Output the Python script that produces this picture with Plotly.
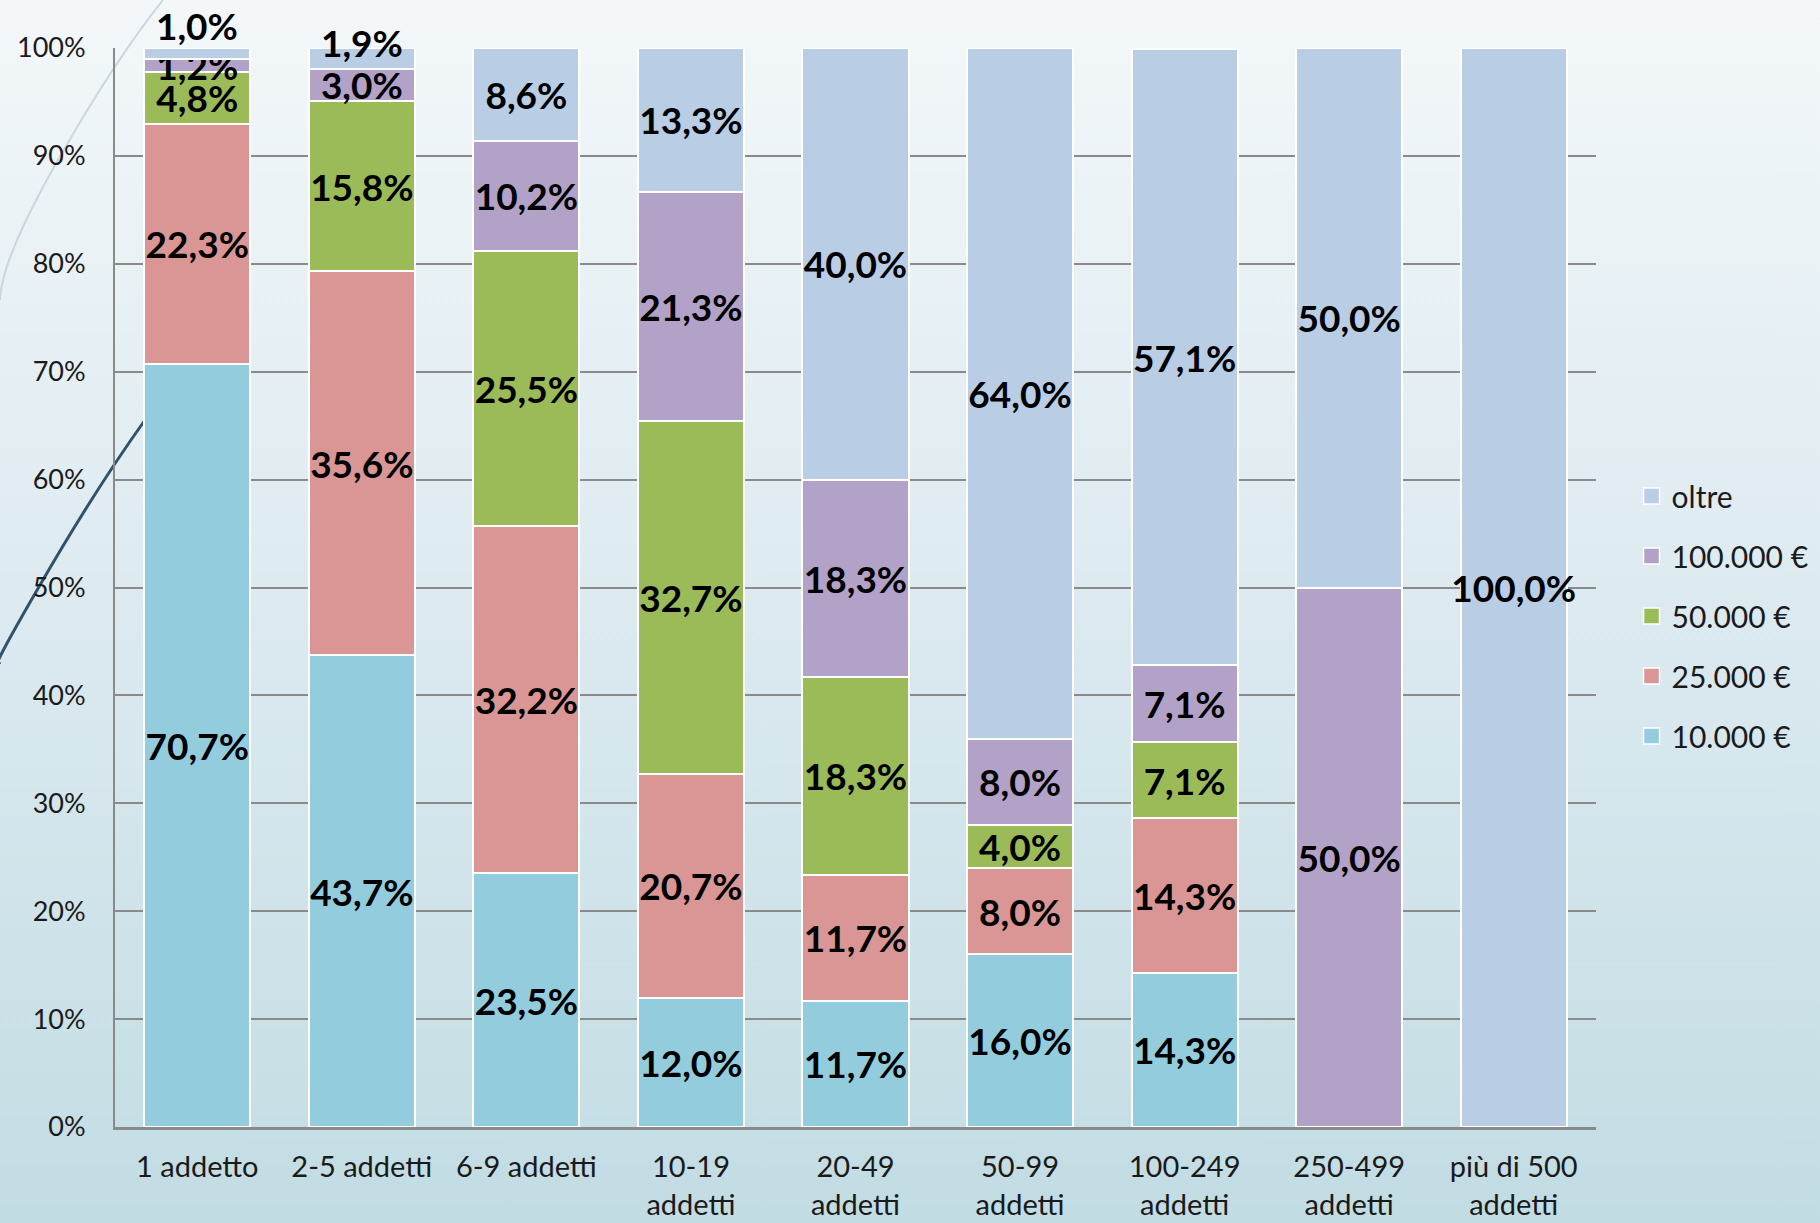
import base64

import plotly.graph_objects as go


# =========================================================
# dati
# =========================================================

categories = [
    "1 addetto",
    "2-5 addetti",
    "6-9 addetti",
    "10-19<br>addetti",
    "20-49<br>addetti",
    "50-99<br>addetti",
    "100-249<br>addetti",
    "250-499<br>addetti",
    "più di 500<br>addetti",
]

series_names = ["10.000 €", "25.000 €", "50.000 €", "100.000 €", "oltre"]

v_10000 = [70.7, 43.7, 23.5, 12.0, 11.7, 16.0, 14.3, 0.0, 0.0]
v_25000 = [22.3, 35.6, 32.2, 20.7, 11.7, 8.0, 14.3, 0.0, 0.0]
v_50000 = [4.8, 15.8, 25.5, 32.7, 18.3, 4.0, 7.1, 0.0, 0.0]
v_100000 = [1.2, 3.0, 10.2, 21.3, 18.3, 8.0, 7.1, 50.0, 0.0]
v_oltre = [1.0, 1.9, 8.6, 13.3, 40.0, 64.0, 57.1, 50.0, 100.0]

y_ticks = [0, 10, 20, 30, 40, 50, 60, 70, 80, 90, 100]

colors = ["#93cddd", "#d99694", "#9bbb59", "#b3a2c7", "#b9cde5"]


def fmt(v):
    if v == 0:
        return ""
    return f"{v:.1f}".replace(".", ",") + "%"


# =========================================================
# figura
# =========================================================

W, H = 1820, 1223
ML, MR, MT, MB = 115, 224, 48, 96
PW = W - ML - MR
PH = H - MT - MB

FONT = "Lato, 'Open Sans', sans-serif"
LABEL_FONT = dict(family=FONT, size=37, color="black", weight="bold")

all_values = [v_10000, v_25000, v_50000, v_100000, v_oltre]

fig = go.Figure()

for i, (name, vals, col) in enumerate(zip(series_names, all_values, colors)):

    texts = [fmt(v) for v in vals]

    # etichette piccole in cima alle prime due barre: annotazioni a parte
    if name == "oltre":
        texts[0] = ""
        texts[1] = ""

    fig.add_trace(
        go.Bar(
            x=categories,
            y=vals,
            name=name,
            legendgroup=name,
            showlegend=False,
            marker=dict(color=col, line=dict(color="white", width=2)),
            text=texts,
            textposition="inside",
            insidetextanchor="middle",
            constraintext="none",
            textangle=0,
            textfont=LABEL_FONT,
        )
    )

    # voce di legenda con quadratino più grande
    fig.add_trace(
        go.Scatter(
            x=[None],
            y=[None],
            mode="markers",
            name=name,
            legendgroup=name,
            legendrank=len(series_names) - i,
            marker=dict(
                symbol="square",
                size=17,
                color=col,
                line=dict(color="white", width=1.5),
            ),
        )
    )

# etichette "oltre" delle prime due barre, sopra il 100%
fig.add_annotation(
    x=categories[0], y=100, text=fmt(v_oltre[0]),
    showarrow=False, yanchor="bottom", yshift=-2,
    font=LABEL_FONT,
)
fig.add_annotation(
    x=categories[1], y=100, text=fmt(v_oltre[1]),
    showarrow=False, yanchor="middle", yshift=6,
    font=LABEL_FONT,
)

# sfondo sfumato
svg = (
    '<svg xmlns="http://www.w3.org/2000/svg" width="100" height="100" '
    'preserveAspectRatio="none">'
    '<defs><linearGradient id="g" x1="0" y1="0" x2="0" y2="1">'
    '<stop offset="0" stop-color="#f3f7f9"/>'
    '<stop offset="0.5" stop-color="#dceaf0"/>'
    '<stop offset="1" stop-color="#c2dce3"/>'
    '</linearGradient></defs>'
    '<rect width="100" height="100" fill="url(#g)"/></svg>'
)
svg_uri = "data:image/svg+xml;base64," + base64.b64encode(svg.encode()).decode()

fig.add_layout_image(
    source=svg_uri,
    xref="paper", yref="paper",
    x=-ML / PW, y=1 + MT / PH,
    sizex=W / PW, sizey=H / PH,
    sizing="stretch",
    xanchor="left", yanchor="top",
    layer="below",
)


def px(x, y):
    return (x - ML) / PW, (H - MB - y) / PH


# curve decorative della slide
p = [px(163, 0), px(115, 60), px(58, 160), px(0, 300)]
fig.add_shape(
    type="path", xref="paper", yref="paper", layer="below",
    path=f"M {p[0][0]},{p[0][1]} Q {p[1][0]},{p[1][1]} {p[2][0]},{p[2][1]} T {p[3][0]},{p[3][1]}",
    line=dict(color="#c9d6de", width=2),
)
q = [px(145, 420), px(95, 490), px(40, 585), px(0, 662)]
fig.add_shape(
    type="path", xref="paper", yref="paper", layer="below",
    path=f"M {q[0][0]},{q[0][1]} Q {q[1][0]},{q[1][1]} {q[2][0]},{q[2][1]} T {q[3][0]},{q[3][1]}",
    line=dict(color="#2f536d", width=3),
)

fig.update_layout(
    width=W,
    height=H,
    margin=dict(l=ML, r=MR, t=MT, b=MB, autoexpand=False),
    barmode="stack",
    bargap=0.355,
    paper_bgcolor="#d6e7ec",
    plot_bgcolor="rgba(0,0,0,0)",
    font=dict(family=FONT, color="#1a1a1a"),
    showlegend=True,
    legend=dict(
        x=1.024,
        y=0.4736,
        xanchor="left",
        yanchor="middle",
        traceorder="grouped",
        tracegroupgap=18,
        itemwidth=30,
        bgcolor="rgba(0,0,0,0)",
        font=dict(family=FONT, size=30, color="#1a1a1a"),
    ),
    xaxis=dict(
        automargin=False,
        showline=True,
        linecolor="#8a8a8a",
        linewidth=3,
        showgrid=False,
        ticks="",
        ticklabelstandoff=12,
        tickfont=dict(family=FONT, size=29, color="#1a1a1a"),
    ),
    yaxis=dict(
        automargin=False,
        range=[0, 100],
        tickvals=y_ticks,
        ticktext=[f"{t}%" for t in y_ticks],
        showline=True,
        linecolor="#8a8a8a",
        linewidth=2,
        showgrid=True,
        gridcolor="#8a8a8a",
        gridwidth=2,
        zeroline=False,
        ticks="",
        ticklabelstandoff=22,
        tickfont=dict(family=FONT, size=27, color="#1a1a1a"),
    ),
)

# niente margine bianco della pagina attorno al grafico
fig.write_html(
    "out.html",
    config={"displayModeBar": False},
    post_script="document.body.style.margin = '0';",
)
